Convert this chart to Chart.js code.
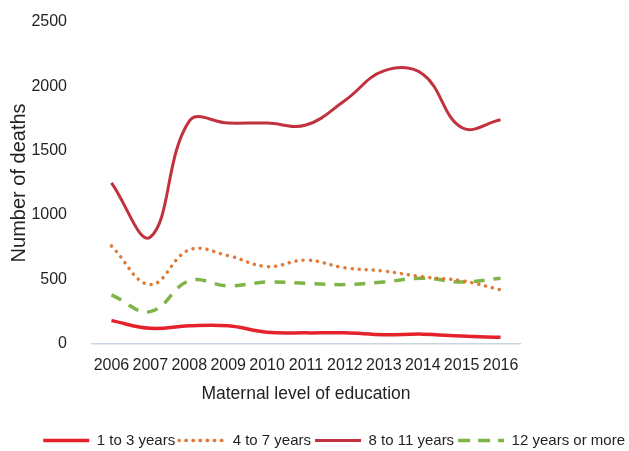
<!DOCTYPE html>
<html>
<head>
<meta charset="utf-8">
<script src="https://cdn.jsdelivr.net/npm/chart.js@4/dist/chart.umd.min.js"></script>
<style>
  html, body { margin: 0; padding: 0; background: #fff; }
  #wrap { width: 629px; height: 451px; }
</style>
</head>
<body>
<div id="wrap"><canvas id="c" width="629" height="451"></canvas></div>
<script>
const YEARS = ['2006', '2007', '2008', '2009', '2010', '2011', '2012', '2013', '2014', '2015', '2016'];
const Y_1_3   = [180, 120, 140, 140, 90, 85, 85, 70, 75, 60, 50];
const Y_4_7   = [760, 460, 730, 685, 600, 650, 590, 565, 520, 490, 420];
const Y_8_11  = [1250, 830, 1730, 1715, 1715, 1700, 1890, 2120, 2095, 1680, 1740];
const Y_12    = [380, 250, 490, 450, 480, 470, 460, 480, 510, 480, 510];
const Y_TICKS = [0, 500, 1000, 1500, 2000, 2500];

const FONT = '"Liberation Sans", Arial, sans-serif';
const INK = '#231f20';

new Chart(document.getElementById('c'), {
  type: 'line',
  data: {
    labels: YEARS,
    datasets: [
      { label: '1 to 3 years', data: Y_1_3, yAxisID: 'y',
        borderColor: '#e5222b', backgroundColor: '#e5222b', borderWidth: 3.5 },
      { label: '4 to 7 years', data: Y_4_7, yAxisID: 'y',
        borderColor: '#e07a36', backgroundColor: 'rgba(0,0,0,0)', borderWidth: 3.5,
        borderDash: [0.1, 7], borderCapStyle: 'round' },
      { label: '8 to 11 years', data: Y_8_11, yAxisID: 'y',
        borderColor: '#c2323e', backgroundColor: '#c2323e', borderWidth: 3 },
      { label: '12 years or more', data: Y_12, yAxisID: 'y',
        borderColor: '#7fb447', backgroundColor: 'rgba(0,0,0,0)', borderWidth: 3.5,
        borderDash: [11, 9] },
    ],
  },
  options: {
    responsive: false, animation: false,
    layout: { padding: { left: 4, top: 22, right: 0, bottom: 0 } },
    elements: { point: { radius: 0 }, line: { tension: 0.4 } },
    plugins: {
      tooltip: { enabled: false },
      legend: {
        position: 'bottom', align: 'end', maxHeight: 22,
        labels: { color: INK, font: { family: FONT, size: 15 }, boxWidth: 46, boxHeight: 0, padding: 4 },
      },
    },
    scales: {
      x: {
        offset: true,
        grid: { display: false },
        border: { color: '#c9d5e2', width: 1.5 },
        ticks: { color: INK, font: { family: FONT, size: 16 }, padding: 4, maxRotation: 0, autoSkip: false },
        title: { display: true, text: 'Maternal level of education', color: INK,
                 font: { family: FONT, size: 17.5 }, padding: { top: 5, bottom: 24 } },
      },
      y: {
        min: 0, max: 2500,
        afterBuildTicks: s => { s.ticks = Y_TICKS.map(v => ({ value: v })); },
        afterFit: s => { s.width = 88; s.paddingTop = 10; s.paddingBottom = 10; },
        grid: { display: false },
        border: { display: false },
        ticks: { color: INK, font: { family: FONT, size: 16 }, padding: 17, callback: v => String(v) },
        title: { display: true, text: 'Number of deaths', color: INK,
                 font: { family: FONT, size: 20 }, padding: 3 },
      },
      y2: {
        position: 'right', display: true,
        afterFit: s => { s.width = 109; },
        grid: { display: false }, border: { display: false },
        ticks: { display: false },
      },
    },
  },
});
</script>
</body>
</html>
